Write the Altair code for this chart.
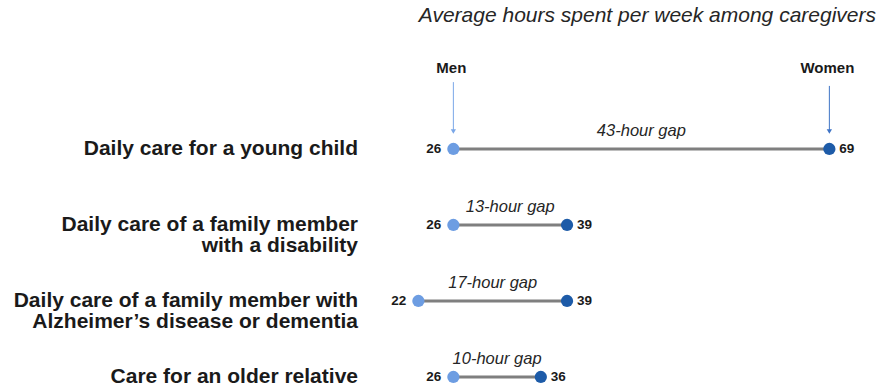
import altair as alt
import pandas as pd

categories = [
    "Daily care for a young child",
    "Daily care of a family member\nwith a disability",
    "Daily care of a family member with\nAlzheimer\u2019s disease or dementia",
    "Care for an older relative",
]
men = [26, 26, 22, 26]
women = [69, 39, 39, 36]
series_names = ["Men", "Women"]
title_text = "Average hours spent per week among caregivers"

LIGHT = "#6d9de2"
DARK = "#1d5ba8"
FONT = "Liberation Sans"

rows = list(range(len(categories)))
df = pd.DataFrame({"cat": categories, "row": rows, "men": men, "women": women})
df["gap"] = [f"{w - m}-hour gap" for m, w in zip(men, women)]
df["mid"] = [(m + w) / 2 for m, w in zip(men, women)]

W, H = 882, 359
x_scale = alt.Scale(domain=[-25.85, 75.02], nice=False, zero=False)
y_scale = alt.Scale(domain=[3.158, -1.5658], nice=False, zero=False)
X = lambda f: alt.X(f, type="quantitative", scale=x_scale, axis=None)
Y = lambda f: alt.Y(f, type="quantitative", scale=y_scale, axis=None)

base = alt.Chart(df)

bars = base.mark_rule(color="#7f7f7f", strokeWidth=3).encode(
    x=X("men"), x2="women", y=Y("row")
)
men_dots = base.mark_circle(size=150, opacity=1, color=LIGHT).encode(x=X("men"), y=Y("row"))
women_dots = base.mark_circle(size=150, opacity=1, color=DARK).encode(x=X("women"), y=Y("row"))

men_lab = base.mark_text(align="right", baseline="middle", dx=-12, font=FONT,
                         fontWeight="bold", fontSize=13.5, color="#1a1a1a").encode(
    x=X("men"), y=Y("row"), text="men:Q")
women_lab = base.mark_text(align="left", baseline="middle", dx=10, font=FONT,
                           fontWeight="bold", fontSize=13.5, color="#1a1a1a").encode(
    x=X("women"), y=Y("row"), text="women:Q")
gap_lab = base.mark_text(align="center", baseline="middle", dy=-18, font=FONT,
                         fontStyle="italic", fontSize=16.5, color="#262626").encode(
    x=X("mid"), y=Y("row"), text="gap:N")
cat_lab = base.mark_text(align="right", baseline="middle", font=FONT, fontWeight="bold",
                         fontSize=21, lineHeight=21.5, lineBreak="\n", color="#1a1a1a").encode(
    x=alt.value(358), y=Y("row"), text="cat:N")

# series labels with arrows above the first row
leg = pd.DataFrame({
    "name": series_names,
    "x": [men[0], women[0]],
    "ytop": [-0.88, -0.83],
    "ybot": [-0.23, -0.23],
    "ylab": [-1.066, -1.066],
    "color": ["#7aa7e8", "#3f74c6"],
})
lb = alt.Chart(leg)
leg_text = lb.mark_text(align="center", baseline="middle", font=FONT, fontWeight="bold",
                        fontSize=15, color="#1a1a1a", dx=-2).encode(
    x=X("x"), y=Y("ylab"), text="name:N")
arrows = lb.mark_rule(strokeWidth=1).encode(
    x=X("x"), y=Y("ytop"), y2="ybot", color=alt.Color("color:N", scale=None))
heads = lb.mark_point(shape="triangle-down", filled=True, size=28, opacity=1).encode(
    x=X("x"), y=Y("ybot"), color=alt.Color("color:N", scale=None))

chart = alt.layer(
    bars, men_dots, women_dots, men_lab, women_lab, gap_lab, cat_lab,
    arrows, heads, leg_text,
).properties(
    width=W, height=H,
    title=alt.TitleParams(title_text, anchor="end", dx=-6, offset=4, font=FONT,
                          fontStyle="italic", fontWeight="normal", fontSize=21,
                          color="#262626"),
    padding={"left": 0, "right": 0, "top": 30, "bottom": 0},
    autosize=alt.AutoSizeParams(type="none"),
).configure_view(stroke=None)

chart.save("out.html", embed_options={"renderer": "svg", "actions": False})
